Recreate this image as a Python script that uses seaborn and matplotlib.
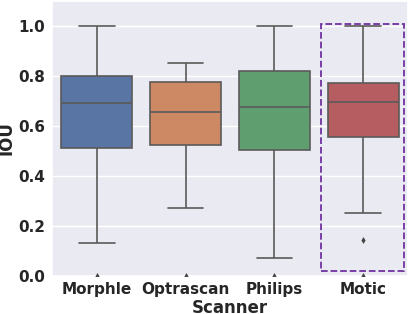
import matplotlib
matplotlib.use("Agg")
import matplotlib.pyplot as plt
import matplotlib.patches as patches
import pandas as pd
import seaborn as sns

# five-number summaries (lower whisker, Q1, median, Q3, upper whisker)
scanners = ["Morphle", "Optrascan", "Philips", "Motic"]
whisker_low = [0.134, 0.271, 0.072, 0.254]
q1 = [0.514, 0.525, 0.505, 0.555]
median = [0.692, 0.656, 0.677, 0.697]
q3 = [0.800, 0.777, 0.819, 0.774]
whisker_high = [1.000, 0.854, 1.000, 1.000]

# outliers per scanner
outlier_scanner = ["Morphle", "Optrascan", "Philips", "Motic", "Motic"]
outlier_iou = [0.0, 0.0, 0.0, 0.146, 0.0]

sns.set_theme(style="darkgrid")
plt.rcParams["font.family"] = ["DejaVu Sans"]

rows = []
for i, s in enumerate(scanners):
    for v in (whisker_low[i], q1[i], median[i], q3[i], whisker_high[i]):
        rows.append({"Scanner": s, "IOU": v})
df = pd.DataFrame(rows)
out_df = pd.DataFrame({"Scanner": outlier_scanner, "IOU": outlier_iou})

fig, ax = plt.subplots(figsize=(4.08, 3.14), dpi=100)
fig.subplots_adjust(left=52.5 / 408, right=407.5 / 408, top=1 - 1 / 314, bottom=1 - 276 / 314)

sns.boxplot(data=df, x="Scanner", y="IOU", hue="Scanner", order=scanners,
            palette="deep", saturation=0.75, width=0.8, linewidth=1.2,
            linecolor="#5a5a5a", showfliers=False, legend=False, ax=ax)
sns.stripplot(data=out_df, x="Scanner", y="IOU", order=scanners, jitter=False,
              marker="d", size=3.5, color="#444444", ax=ax)

ax.set_ylim(0, 1.1)
ax.set_xlim(-0.5, 3.5)
ax.set_yticks([0.0, 0.2, 0.4, 0.6, 0.8, 1.0])

# highlight box around Motic
ax.add_patch(patches.Rectangle((2.525, 0.02), 0.935, 0.989, fill=False,
                               edgecolor="#7030A0", linestyle="--", linewidth=1.3,
                               clip_on=False, zorder=5))

for lab in ax.get_xticklabels() + ax.get_yticklabels():
    lab.set_fontweight("bold")
    lab.set_fontsize(11)
ax.tick_params(axis="both", length=0)
ax.tick_params(axis="x", pad=4)
ax.tick_params(axis="y", pad=5)
ax.set_xlabel("Scanner", fontsize=12, fontweight="bold", labelpad=1.5)
ax.set_ylabel("IOU", fontsize=12, fontweight="bold", labelpad=2)

fig.savefig("out.png", dpi=100)
